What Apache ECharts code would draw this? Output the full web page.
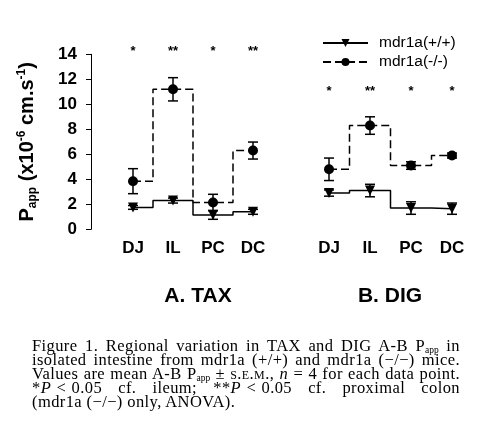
<!DOCTYPE html>
<html lang="en">
<head>
    <meta charset="UTF-8">
    <title>Regional Papp</title>
    <script src="https://cdn.jsdelivr.net/npm/echarts@6/dist/echarts.min.js"></script>
</head>
<style type="text/css">
    html,body{
        margin: 0;
        padding: 0;
        background: #fff;
    }
    #wrap{
        position: relative;
        width: 487px;
        height: 443px;
    }
    #chart{
        position: absolute;
        left: 0;
        top: 0;
        width: 487px;
        height: 443px;
    }
    #caption{
        position: absolute;
        left: 32px;
        top: 339px;
        width: 428px;
        font-family: "Liberation Serif", "DejaVu Serif", serif;
        font-size: 16.5px;
        letter-spacing: 0.4px;
        line-height: 14.1px;
        color: #000;
    }
    #caption .ln{
        text-align: justify;
        text-align-last: justify;
        white-space: nowrap;
    }
    #caption .last{
        text-align: left;
        text-align-last: left;
    }
    #caption sub{
        font-size: 9.5px;
        letter-spacing: 0;
        vertical-align: -2px;
        line-height: 0;
    }
    .sc{
        font-variant: small-caps;
    }
</style>
<body>
<div id="wrap">
    <div id="chart"></div>
    <div id="caption">
        <div class="ln">Figure 1. Regional variation in TAX and DIG A-B P<sub>app</sub> in</div>
        <div class="ln">isolated intestine from mdr1a (+/+) and mdr1a (&minus;/&minus;) mice.</div>
        <div class="ln">Values are mean A-B P<sub>app</sub> &plusmn; <span class="sc">s.e.m.</span>, <i>n</i> = 4 for each data point.</div>
        <div class="ln">*<i>P</i> &lt; 0.05 &nbsp; cf. &nbsp; ileum; &nbsp; **<i>P</i> &lt; 0.05 &nbsp; cf. &nbsp; proximal &nbsp; colon</div>
        <div class="ln last">(mdr1a (&minus;/&minus;) only, ANOVA).</div>
    </div>
</div>
<script>
    // regions
    var cats = ['DJ', 'IL', 'PC', 'DC'];

    // A. TAX
    var taxWT = [1.75, 2.3, 1.15, 1.4];
    var taxWTErr = [0.15, 0.2, 0.35, 0.2];
    var taxKO = [3.85, 11.2, 2.15, 6.3];
    var taxKOErr = [1.0, 0.93, 0.65, 0.68];
    var taxStars = ['*', '**', '*', '**'];

    // B. DIG
    var digWT = [2.9, 3.1, 1.7, 1.65];
    var digWTErr = [0.25, 0.5, 0.5, 0.45];
    var digKO = [4.8, 8.3, 5.1, 5.9];
    var digKOErr = [0.9, 0.7, 0.3, 0.2];
    var digStars = ['*', '**', '*', '*'];

    var yTicks = [0, 2, 4, 6, 8, 10, 12, 14];

    var FONT = 'Liberation Sans, Arial, sans-serif';

    function stepLine(name, idx, vals, dashed, symbol) {
        return {
            name: name,
            type: 'line',
            xAxisIndex: idx,
            yAxisIndex: idx,
            step: 'middle',
            data: vals,
            symbol: symbol,
            symbolSize: 10,
            symbolRotate: symbol == 'triangle' ? 180 : 0,
            lineStyle: {color: '#000', width: 1.5, type: dashed ? [8, 4] : 'solid'},
            itemStyle: {color: '#000'},
            z: 4,
            silent: true
        };
    }

    function errBars(idx, vals, errs) {
        var data = [];
        for (var i = 0; i < vals.length; i++) {
            data.push([i, vals[i] - errs[i], vals[i] + errs[i]]);
        }
        return {
            type: 'custom',
            xAxisIndex: idx,
            yAxisIndex: idx,
            data: data,
            encode: {x: 0, y: [1, 2]},
            silent: true,
            z: 5,
            renderItem: function (params, api) {
                var lo = api.coord([api.value(0), api.value(1)]);
                var hi = api.coord([api.value(0), api.value(2)]);
                var w = 5;
                var st = {stroke: '#000', lineWidth: 1.5};
                return {
                    type: 'group',
                    children: [
                        {type: 'line', shape: {x1: lo[0], y1: lo[1], x2: hi[0], y2: hi[1]}, style: st},
                        {type: 'line', shape: {x1: lo[0] - w, y1: lo[1], x2: lo[0] + w, y2: lo[1]}, style: st},
                        {type: 'line', shape: {x1: hi[0] - w, y1: hi[1], x2: hi[0] + w, y2: hi[1]}, style: st}
                    ]
                };
            }
        };
    }

    function starMarks(idx, stars, level) {
        var data = [];
        for (var i = 0; i < stars.length; i++) {
            data.push([i, level]);
        }
        return {
            type: 'custom',
            xAxisIndex: idx,
            yAxisIndex: idx,
            data: data,
            silent: true,
            renderItem: function (params, api) {
                var p = api.coord([api.value(0), api.value(1)]);
                return {
                    type: 'text',
                    style: {
                        text: stars[params.dataIndex],
                        x: p[0], y: p[1],
                        align: 'center', verticalAlign: 'middle',
                        font: 'bold 13px ' + FONT,
                        fill: '#000'
                    }
                };
            }
        };
    }

    var catAxis = function (idx) {
        return {
            type: 'category',
            gridIndex: idx,
            data: cats,
            boundaryGap: true,
            axisLine: {show: false},
            axisTick: {show: false},
            axisLabel: {color: '#000', fontWeight: 'bold', fontSize: 17, fontFamily: FONT, margin: 11}
        };
    };

    var myChart = echarts.init(document.getElementById('chart'), null, {renderer: 'canvas'});
    var options = {
        animation: false,
        backgroundColor: '#fff',
        title: [{
            text: 'A. TAX',
            left: 198,
            top: 286,
            padding: 0,
            textAlign: 'center',
            textStyle: {color: '#000', fontWeight: 'bold', fontSize: 21, fontFamily: FONT}
        }, {
            text: 'B. DIG',
            left: 390,
            top: 286,
            padding: 0,
            textAlign: 'center',
            textStyle: {color: '#000', fontWeight: 'bold', fontSize: 21, fontFamily: FONT}
        }],
        legend: {
            orient: 'vertical',
            left: 322,
            top: 35,
            padding: 0,
            itemWidth: 45,
            itemHeight: 10,
            itemGap: 3,
            data: ['mdr1a(+/+)', 'mdr1a(-/-)'],
            textStyle: {color: '#000', fontSize: 15.5, fontFamily: FONT, padding: [0, 0, 0, 6]}
        },
        grid: [
            {left: 113, width: 160, top: 54.3, height: 175},
            {left: 308.5, width: 164, top: 54.3, height: 175}
        ],
        xAxis: [catAxis(0), catAxis(1)],
        yAxis: [{
            type: 'value',
            gridIndex: 0,
            min: 0,
            max: 14,
            interval: 2,
            offset: 22,
            name: 'P{sub|app} (x10{sup|-6} cm.s{sup|-1})',
            nameLocation: 'middle',
            nameGap: 52,
            nameTextStyle: {
                color: '#000', fontWeight: 'bold', fontSize: 20, fontFamily: FONT,
                rich: {
                    sub: {fontSize: 12, fontWeight: 'bold', fontFamily: FONT, verticalAlign: 'bottom', padding: [11, 0, 0, 0]},
                    sup: {fontSize: 12, fontWeight: 'bold', fontFamily: FONT, verticalAlign: 'top', padding: [0, 0, 11, 0]}
                }
            },
            axisLine: {show: true, lineStyle: {color: '#000', width: 1}},
            axisTick: {show: true, inside: false, length: 5, lineStyle: {color: '#000'}},
            splitLine: {show: false},
            axisLabel: {
                color: '#000', fontWeight: 'bold', fontSize: 17, fontFamily: FONT, margin: 14,
                formatter: function (v) { return yTicks.indexOf(v) >= 0 ? String(v) : ''; }
            }
        }, {
            type: 'value',
            gridIndex: 1,
            min: 0,
            max: 14,
            interval: 2,
            show: false
        }],
        series: [
            stepLine('mdr1a(+/+)', 0, taxWT, false, 'triangle'),
            stepLine('mdr1a(-/-)', 0, taxKO, true, 'circle'),
            errBars(0, taxWT, taxWTErr),
            errBars(0, taxKO, taxKOErr),
            starMarks(0, taxStars, 14.25),
            stepLine('mdr1a(+/+)', 1, digWT, false, 'triangle'),
            stepLine('mdr1a(-/-)', 1, digKO, true, 'circle'),
            errBars(1, digWT, digWTErr),
            errBars(1, digKO, digKOErr),
            starMarks(1, digStars, 11.0)
        ]
    };
    myChart.setOption(options);
</script>
</body>
</html>
